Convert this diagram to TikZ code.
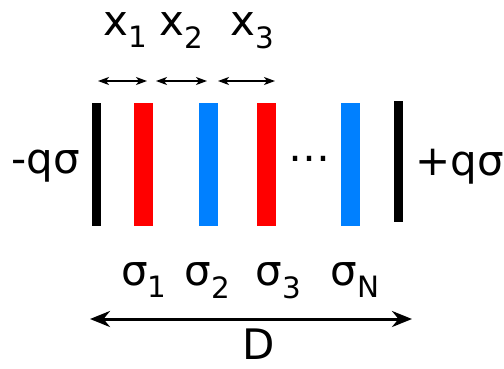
\documentclass[tikz,border=0pt]{standalone}
\usepackage{fontspec}
\setmainfont{DejaVu Sans}
\usetikzlibrary{arrows.meta}
\definecolor{plateblue}{RGB}{0,128,255}
\tikzset{
  wall/.style={fill=black, inner sep=0pt, minimum width=9pt, minimum height=123pt},
  plate/.style={inner sep=0pt, minimum width=19pt, minimum height=123pt},
  lbl/.style={anchor=base, inner sep=0pt, font=\fontsize{42}{50}\selectfont},
  gap/.style={{Stealth[length=11pt,width=8pt,inset=3pt]}-{Stealth[length=11pt,width=8pt,inset=3pt]}, line width=1.2pt},
  span/.style={{Stealth[length=20pt,width=16pt]}-{Stealth[length=20pt,width=16pt]}, line width=3pt},
}
\begin{document}
\begin{tikzpicture}[x=1pt,y=-1pt]
\useasboundingbox (0,0) rectangle (504,368);
% walls and plates
\node[wall] (wl) at (96.5,164.5) {};
\node[plate, fill=red] (p1) at (143,164.5) {};
\node[plate, fill=plateblue] (p2) at (208,164.5) {};
\node[plate, fill=red] (p3) at (266.5,164) {};
\node[plate, fill=plateblue] (pN) at (350.5,164.5) {};
\node[wall, minimum height=121pt] (wr) at (398.5,161.5) {};
\node[inner sep=0pt, font=\fontsize{42}{50}\selectfont] (dots) at (309,159) {…};
% charges
\node[lbl] (qneg) at (46,173) {-qσ};
\node[lbl] (qpos) at (460,175) {+qσ};
% spacings
\node[lbl] (x1) at (126,35) {x\textsubscript{1}};
\node[lbl] (x2) at (182,35) {x\textsubscript{2}};
\node[lbl] (x3) at (252.5,35) {x\textsubscript{3}};
\coordinate (g0) at (98,81);
\coordinate (g1) at (147,81);
\coordinate (g2) at (156,81);
\coordinate (g3) at (207,81);
\coordinate (g4) at (218,81);
\coordinate (g5) at (275,81);
\draw[gap] (g0) -- (g1);
\draw[gap] (g2) -- (g3);
\draw[gap] (g4) -- (g5);
% densities
\node[lbl] (s1) at (144,285) {σ\textsubscript{1}};
\node[lbl] (s2) at (207.5,285) {σ\textsubscript{2}};
\node[lbl] (s3) at (278.5,285) {σ\textsubscript{3}};
\node[lbl] (sN) at (355.5,285) {σ\textsubscript{N}};
% width
\coordinate (dl) at (90,319);
\coordinate (dr) at (412,319);
\draw[span] (dl) -- (dr);
\node[lbl] (D) at (258.5,359) {D};
\end{tikzpicture}
\end{document}
